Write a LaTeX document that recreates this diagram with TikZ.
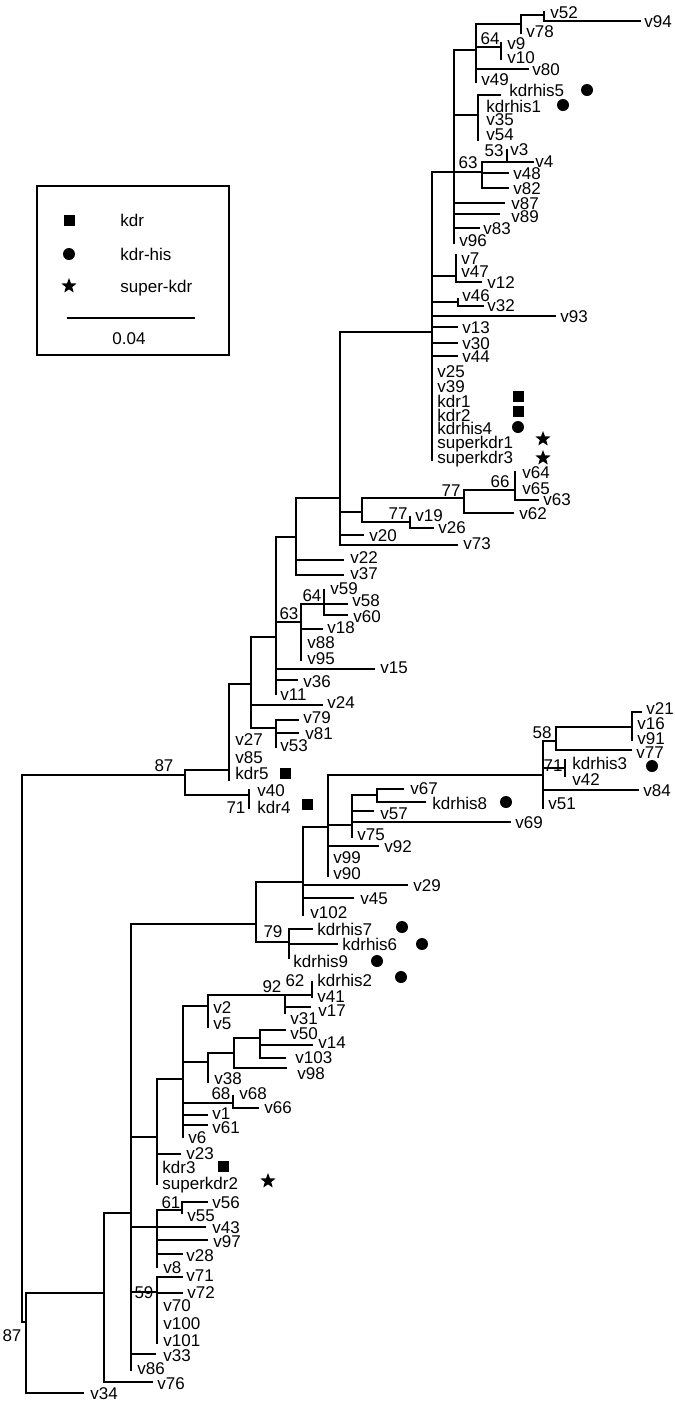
\documentclass[tikz,border=0pt]{standalone}
\usepackage{fontspec}
\setmainfont{Liberation Sans}
\usetikzlibrary{shapes.geometric}
\newcommand\lf[5]{\coordinate (#1) at (#2,#3); \node[lbl] (#1-t) at (#4,#5) {#1};}
\newcommand\kids[2]{\foreach \c in {#2}{\draw[edge] (#1) |- (\c);}}
\begin{document}
\begin{tikzpicture}[x=0.5pt,y=-0.5pt,
  edge/.style={line width=0.75pt, line cap=rect},
  lbl/.style={anchor=west, inner sep=0pt, font=\fontsize{8.5}{10}\selectfont, text height=6.1pt, text depth=0pt},
  bs/.style={inner sep=0pt, font=\fontsize{8.5}{10}\selectfont, text height=6.1pt, text depth=0pt},
  sq/.style={fill, minimum size=5.5pt, inner sep=0pt},
  dot/.style={circle, fill, minimum size=6pt, inner sep=0pt},
  st/.style={star, star points=5, star point ratio=2.4, fill, minimum size=8pt, inner sep=0pt}]
\useasboundingbox (0,0) rectangle (675,1404);
% ---------- internal nodes ----------
\coordinate (R) at (22,775); \coordinate (P) at (185,775);
\coordinate (O) at (229,770); \coordinate (Q) at (249,795);
\coordinate (M) at (251,684); \coordinate (N) at (276,728);
\coordinate (J) at (276,637); \coordinate (K) at (301,622);
\coordinate (L) at (324,604); \coordinate (I) at (296,537);
\coordinate (D) at (340,498); \coordinate (E) at (362,512);
\coordinate (F) at (464,498); \coordinate (G) at (515,490);
\coordinate (H) at (410,522); \coordinate (A) at (432,332);
\coordinate (B) at (454,172); \coordinate (n476) at (476,50);
\coordinate (N521) at (521,24); \coordinate (N544) at (544,15);
\coordinate (N64) at (501,47); \coordinate (K5) at (478,115);
\coordinate (N63) at (482,172); \coordinate (N53) at (507,162);
\coordinate (C) at (456,276); \coordinate (N46) at (458,302);
\coordinate (S) at (26,1322); \coordinate (T) at (104,1293);
\coordinate (U) at (131,1213); \coordinate (V) at (256,924);
\coordinate (Z) at (303,882); \coordinate (AA) at (328,827);
\coordinate (CC) at (352,825); \coordinate (DD) at (377,795);
\coordinate (BB) at (543,775); \coordinate (N58) at (556,741);
\coordinate (X1) at (632,727); \coordinate (N71) at (565,768);
\coordinate (N79) at (289,942); \coordinate (W) at (157,1137);
\coordinate (W1) at (183,1079); \coordinate (W2) at (208,1006);
\coordinate (N92) at (285,995); \coordinate (N62) at (312,995);
\coordinate (W3) at (208,1062); \coordinate (W5) at (234,1053);
\coordinate (W6) at (260,1038); \coordinate (W4) at (233,1103);
\coordinate (X) at (157,1227); \coordinate (N61) at (182,1210);
\coordinate (Y) at (157,1292);
% ---------- leaves ----------
\lf{v52}{544}{12}{550}{12}
\lf{v94}{640}{21}{644}{21}
\lf{v78}{521}{33}{526}{31}
\lf{v9}{501}{43}{507}{43}
\lf{v10}{501}{59}{507}{57}
\lf{v80}{528}{69}{532}{69}
\lf{v49}{476}{82}{481}{79}
\lf{kdrhis5}{500}{95}{509}{90}
\lf{kdrhis1}{478}{106}{486}{106}
\lf{v35}{478}{119}{486}{119}
\lf{v54}{478}{140}{486}{134}
\lf{v3}{507}{150}{510}{149}
\lf{v4}{533}{162}{535}{161}
\lf{v48}{508}{173}{513}{173}
\lf{v82}{508}{188}{513}{188}
\lf{v87}{504}{203}{511}{203}
\lf{v89}{499}{214}{511}{216}
\lf{v83}{479}{228}{483}{228}
\lf{v96}{454}{243}{459}{240}
\lf{v7}{456}{255}{461}{258}
\lf{v47}{456}{270}{461}{271}
\lf{v12}{481}{282}{487}{282}
\lf{v46}{458}{299}{462}{295}
\lf{v32}{483}{306}{487}{305}
\lf{v93}{555}{316}{560}{316}
\lf{v13}{457}{327}{462}{327}
\lf{v30}{457}{343}{462}{343}
\lf{v44}{457}{356}{462}{356}
\lf{v25}{432}{370}{437}{371}
\lf{v39}{432}{386}{437}{386}
\lf{kdr1}{432}{400}{437}{401}
\lf{kdr2}{432}{414}{437}{415}
\lf{kdrhis4}{432}{427}{437}{428}
\lf{superkdr1}{432}{441}{437}{442}
\lf{superkdr3}{432}{460}{437}{457}
\lf{v64}{515}{472}{522}{472}
\lf{v65}{515}{488}{522}{488}
\lf{v63}{538}{500}{543}{499}
\lf{v62}{513}{513}{519}{513}
\lf{v19}{410}{517}{415}{515}
\lf{v26}{433}{528}{438}{527}
\lf{v20}{363}{535}{369}{535}
\lf{v73}{457}{545}{463}{543}
\lf{v22}{343}{560}{350}{557}
\lf{v37}{343}{575}{350}{573}
\lf{v59}{324}{590}{330}{588}
\lf{v58}{347}{604}{352}{600}
\lf{v60}{347}{615}{353}{616}
\lf{v18}{322}{629}{327}{627}
\lf{v88}{301}{642}{307}{642}
\lf{v95}{301}{660}{307}{658}
\lf{v15}{374}{669}{380}{667}
\lf{v36}{297}{680}{303}{681}
\lf{v11}{276}{694}{280}{694}
\lf{v24}{322}{705}{327}{702}
\lf{v79}{298}{720}{303}{717}
\lf{v81}{298}{733}{305}{733}
\lf{v53}{276}{747}{280}{745}
\lf{v27}{229}{739}{235}{739}
\lf{v85}{229}{757}{235}{757}
\lf{kdr5}{229}{780}{235}{773}
\lf{v40}{249}{790}{257}{790}
\lf{kdr4}{249}{808}{257}{807}
\lf{v21}{641}{712}{646}{708}
\lf{v16}{632}{723}{637}{723}
\lf{v91}{632}{740}{637}{738}
\lf{v77}{631}{750}{636}{752}
\lf{kdrhis3}{565}{760}{572}{763}
\lf{v42}{565}{776}{572}{779}
\lf{v84}{638}{790}{643}{790}
\lf{v51}{543}{808}{548}{803}
\lf{v67}{403}{789}{410}{788}
\lf{kdrhis8}{425}{802}{432}{803}
\lf{v57}{373}{811}{380}{813}
\lf{v69}{510}{822}{515}{822}
\lf{v75}{352}{837}{357}{834}
\lf{v92}{378}{846}{384}{846}
\lf{v99}{328}{857}{333}{857}
\lf{v90}{328}{876}{333}{873}
\lf{v29}{407}{885}{413}{885}
\lf{v45}{353}{898}{360}{898}
\lf{v102}{303}{915}{310}{912}
\lf{kdrhis7}{312}{929}{317}{929}
\lf{kdrhis6}{337}{944}{342}{944}
\lf{kdrhis9}{289}{958}{293}{961}
\lf{kdrhis2}{312}{982}{317}{980}
\lf{v41}{312}{997}{317}{996}
\lf{v17}{310}{1007}{318}{1010}
\lf{v31}{285}{1013}{290}{1018}
\lf{v2}{208}{1007}{213}{1007}
\lf{v5}{208}{1027}{213}{1023}
\lf{v50}{285}{1030}{290}{1033}
\lf{v14}{312}{1045}{318}{1042}
\lf{v103}{285}{1058}{295}{1057}
\lf{v98}{286}{1068}{297}{1073}
\lf{v38}{208}{1082}{214}{1078}
\lf{v68}{233}{1096}{239}{1093}
\lf{v66}{258}{1108}{264}{1107}
\lf{v1}{207}{1115}{212}{1113}
\lf{v61}{207}{1125}{212}{1127}
\lf{v6}{183}{1137}{188}{1137}
\lf{v23}{180}{1154}{186}{1153}
\lf{kdr3}{157}{1167}{162}{1167}
\lf{superkdr2}{157}{1184}{162}{1183}
\lf{v56}{207}{1202}{212}{1202}
\lf{v55}{182}{1213}{187}{1215}
\lf{v43}{205}{1227}{212}{1227}
\lf{v97}{207}{1240}{213}{1241}
\lf{v28}{182}{1254}{186}{1255}
\lf{v8}{157}{1267}{163}{1267}
\lf{v71}{182}{1277}{186}{1275}
\lf{v72}{182}{1293}{187}{1292}
\lf{v70}{157}{1305}{163}{1305}
\lf{v100}{157}{1323}{163}{1323}
\lf{v101}{157}{1343}{163}{1340}
\lf{v33}{155}{1354}{163}{1355}
\lf{v86}{131}{1370}{137}{1368}
\lf{v76}{152}{1382}{157}{1383}
\lf{v34}{83}{1393}{90}{1393}
% ---------- branches ----------
\kids{R}{P,S}
\kids{P}{O,Q}
\kids{Q}{v40,kdr4}
\kids{O}{M,v27,v85,kdr5}
\kids{M}{J,v24,N}
\kids{N}{v79,v81,v53}
\kids{J}{I,K,v15,v36,v11}
\kids{K}{L,v18,v88,v95}
\kids{L}{v59,v58,v60}
\kids{I}{D,v22,v37}
\kids{D}{A,E,v20,v73}
\kids{E}{F,H}
\kids{F}{G,v62}
\kids{G}{v64,v65,v63}
\kids{H}{v19,v26}
\kids{A}{B,C,N46,v93,v13,v30,v44,v25,v39,kdr1,kdr2,kdrhis4,superkdr1,superkdr3}
\kids{B}{n476,K5,N63,v87,v89,v83,v96}
\kids{n476}{N521,N64,v80,v49}
\kids{N521}{N544,v78}
\kids{N544}{v52,v94}
\kids{N64}{v9,v10}
\kids{K5}{kdrhis5,kdrhis1,v35,v54}
\kids{N63}{N53,v48,v82}
\kids{N53}{v3,v4}
\kids{C}{v7,v47,v12}
\kids{N46}{v46,v32}
\kids{S}{T,v34}
\kids{T}{U,v76}
\kids{U}{V,W,X,Y,v33,v86}
\kids{V}{Z,N79}
\kids{Z}{AA,v29,v45,v102}
\kids{AA}{BB,CC,v92,v99,v90}
\kids{CC}{DD,v57,v69,v75}
\kids{DD}{v67,kdrhis8}
\kids{BB}{N58,N71,v84,v51}
\kids{N58}{X1,v77}
\kids{X1}{v21,v16,v91}
\kids{N71}{kdrhis3,v42}
\kids{N79}{kdrhis7,kdrhis6,kdrhis9}
\kids{W}{W1,v23,kdr3,superkdr2}
\kids{W1}{W2,W3,W4,v1,v61,v6}
\kids{W2}{N92,v2,v5}
\kids{N92}{N62,v17,v31}
\kids{N62}{kdrhis2,v41}
\kids{W3}{W5,v38}
\kids{W5}{W6,v98}
\kids{W6}{v50,v14,v103}
\kids{W4}{v68,v66}
\kids{X}{N61,v43,v97,v28,v8}
\kids{N61}{v56,v55}
\kids{Y}{v71,v72,v70,v100,v101}
% ---------- bootstrap values ----------
\node[bs] (b1) at (164,765) {87};
\node[bs] (b2) at (12,1335) {87};
\node[bs] (b3) at (236,807) {71};
\node[bs] (b4) at (490,38) {64};
\node[bs] (b5) at (468,162) {63};
\node[bs] (b6) at (494,150) {53};
\node[bs] (b7) at (451,490) {77};
\node[bs] (b8) at (500,481) {66};
\node[bs] (b9) at (398,513) {77};
\node[bs] (b10) at (312,595) {64};
\node[bs] (b11) at (289,613) {63};
\node[bs] (b12) at (542,732) {58};
\node[bs] (b13) at (553,765) {71};
\node[bs] (b14) at (273,931) {79};
\node[bs] (b15) at (272,986) {92};
\node[bs] (b16) at (295,980) {62};
\node[bs] (b17) at (221,1093) {68};
\node[bs] (b18) at (171,1202) {61};
\node[bs] (b19) at (144,1292) {59};
% ---------- markers ----------
\node[dot] (m1) at (587,90) {};
\node[dot] (m2) at (563,105) {};
\node[dot] (m3) at (518,427) {};
\node[dot] (m4) at (506,802) {};
\node[dot] (m5) at (652,766) {};
\node[dot] (m6) at (402,927) {};
\node[dot] (m7) at (422,944) {};
\node[dot] (m8) at (377,961) {};
\node[dot] (m9) at (401,977) {};
\node[sq] (s1) at (518,396) {};
\node[sq] (s2) at (518,411) {};
\node[sq] (s3) at (285,773) {};
\node[sq] (s4) at (307,804) {};
\node[sq] (s5) at (223,1166) {};
\node[st] (t1) at (543,439) {};
\node[st] (t2) at (543,458) {};
\node[st] (t3) at (268,1181) {};
% ---------- legend ----------
\node[draw, line width=1pt, minimum width=96pt, minimum height=84.5pt, inner sep=0pt] (legend) at (133,270.5) {};
\node[sq] (lg1) at (69,220) {};
\node[lbl] (lg1t) at (120,220) {kdr};
\node[dot] (lg2) at (69,254) {};
\node[lbl] (lg2t) at (120,254) {kdr-his};
\node[st] (lg3) at (69,286) {};
\node[lbl] (lg3t) at (120,286) {super-kdr};
\coordinate (sb1) at (68,318); \coordinate (sb2) at (194,318);
\draw[edge] (sb1) -- (sb2);
\node[bs] (sbt) at (129,338) {0.04};
\end{tikzpicture}
\end{document}
